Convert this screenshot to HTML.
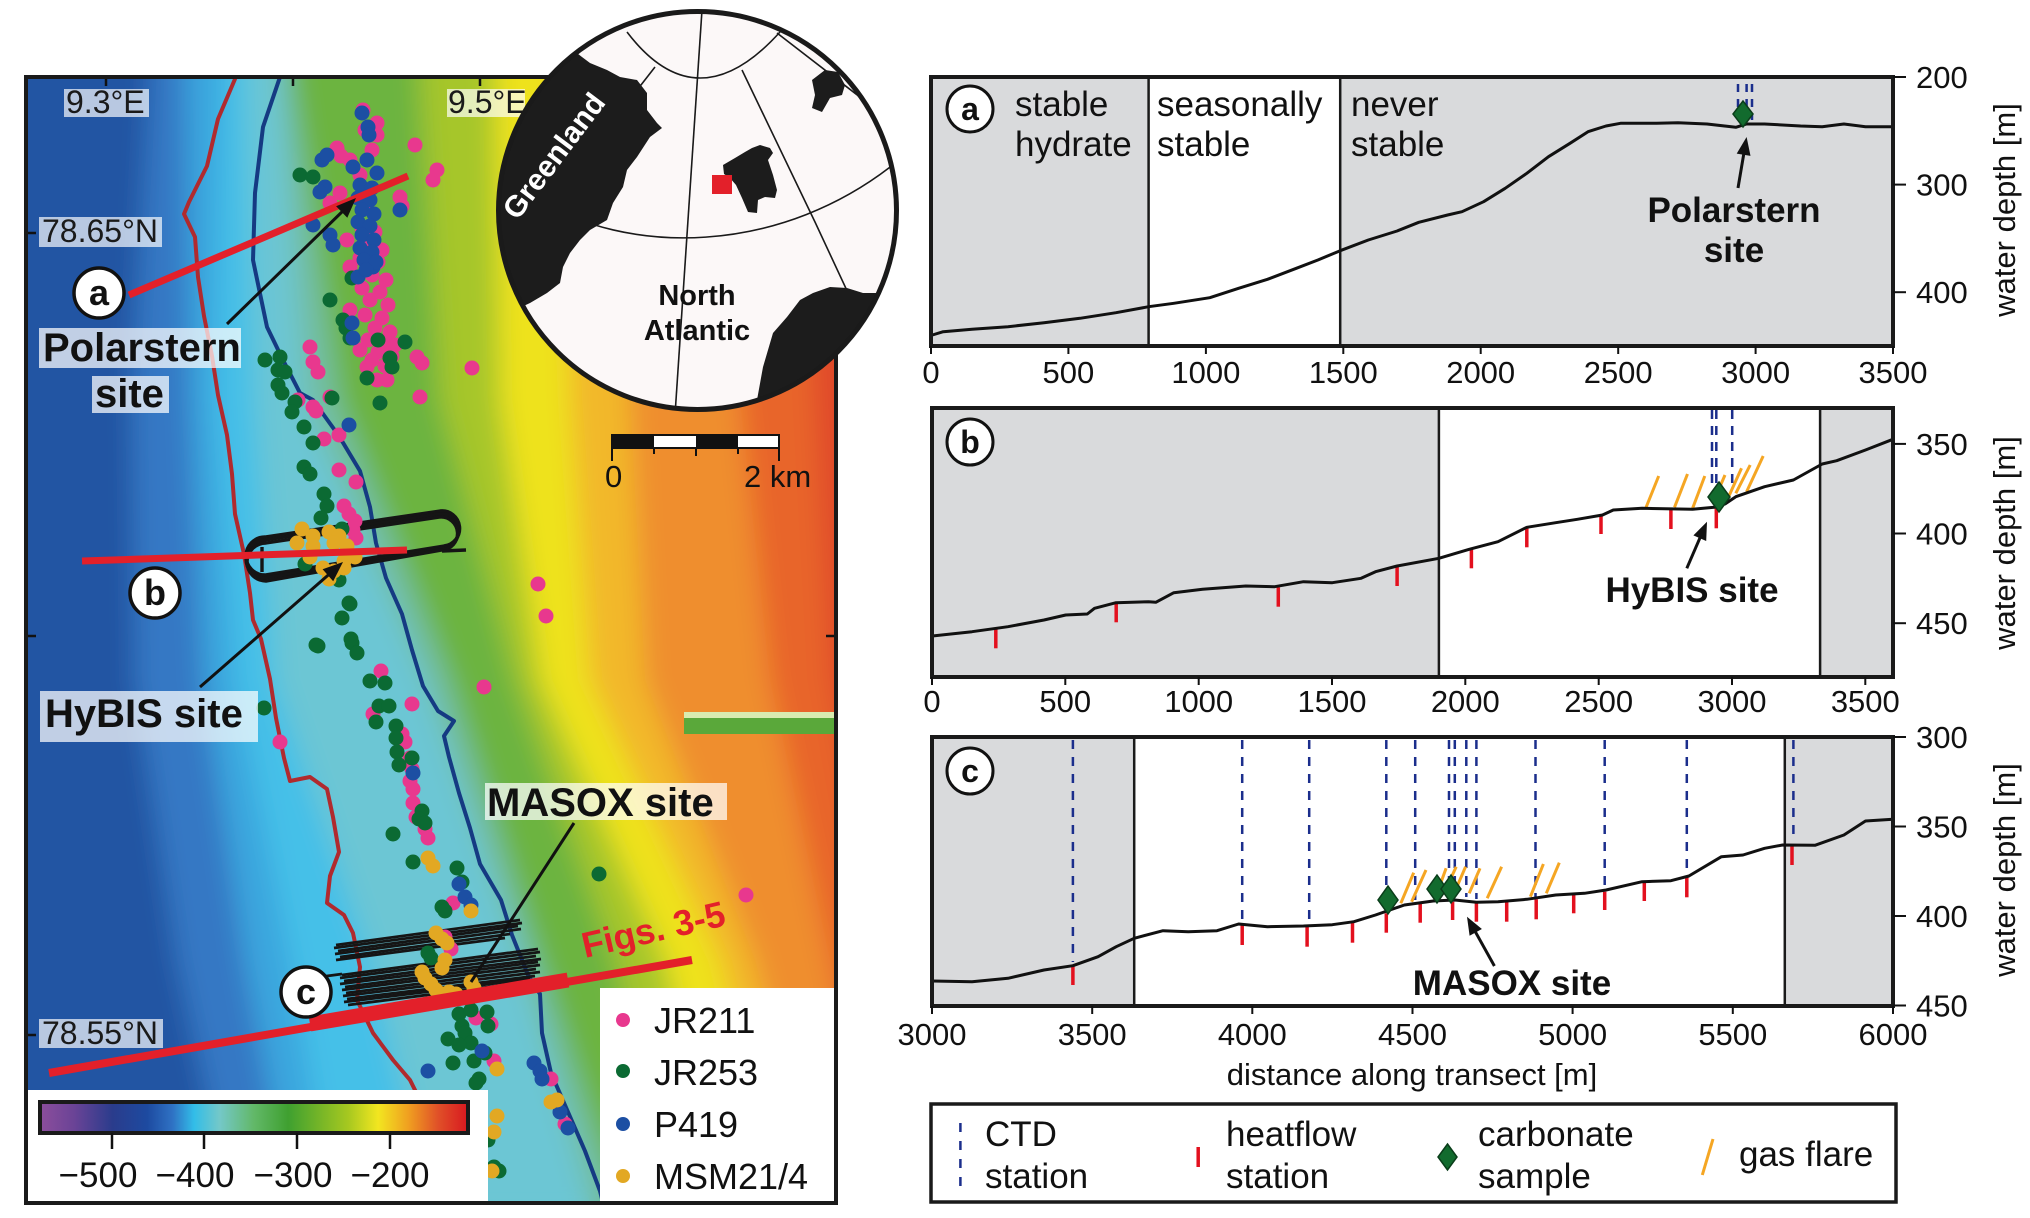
<!DOCTYPE html>
<html><head><meta charset="utf-8">
<style>
html,body{margin:0;padding:0;background:#fff;width:2030px;height:1218px;overflow:hidden;}
svg{display:block;font-family:"Liberation Sans",Arial,sans-serif;}
</style></head>
<body>
<svg width="2030" height="1218" viewBox="0 0 2030 1218" xmlns="http://www.w3.org/2000/svg">
<defs>
<clipPath id="mapclip"><rect x="26" y="77" width="810" height="1126"/></clipPath>
<clipPath id="globeclip"><circle cx="697.5" cy="210.5" r="200"/></clipPath>
<filter id="bl" filterUnits="userSpaceOnUse" x="0" y="0" width="1000" height="1218"><feGaussianBlur stdDeviation="13"/></filter>
<linearGradient id="cbar" x1="0" x2="1" y1="0" y2="0">
<stop offset="0" stop-color="#8c4e9c"/><stop offset="0.08" stop-color="#6a4396"/><stop offset="0.17" stop-color="#2a3c8c"/><stop offset="0.25" stop-color="#1d4aa0"/><stop offset="0.31" stop-color="#2f72c4"/><stop offset="0.36" stop-color="#32bde8"/><stop offset="0.42" stop-color="#74c8c8"/><stop offset="0.5" stop-color="#62b868"/><stop offset="0.58" stop-color="#3fa030"/><stop offset="0.72" stop-color="#a6c820"/><stop offset="0.79" stop-color="#f2e620"/><stop offset="0.86" stop-color="#f0a020"/><stop offset="0.93" stop-color="#e05028"/><stop offset="1" stop-color="#d81820"/>
</linearGradient>
<g id="bands">
  <rect x="0" y="0" width="1000" height="1218" fill="#2455a3"/>
  <polygon fill="#3478c4" points="150,0 150,77 132,400 135,680 177,960 230,1203 230,1218 1000,1218 1000,0"/>
  <polygon fill="#3aa6de" points="185,0 185,77 190,400 203,680 245,960 290,1203 290,1218 1000,1218 1000,0"/>
  <polygon fill="#45c0e8" points="222,0 222,77 215,400 235,680 290,960 330,1203 330,1218 1000,1218 1000,0"/>
  <polygon fill="#6cc6d4" points="245,0 245,77 255,400 275,680 370,960 430,1203 430,1218 1000,1218 1000,0"/>
  <polygon fill="#72bea2" points="280,0 280,77 305,400 425,680 520,960 590,1203 590,1218 1000,1218 1000,0"/>
  <polygon fill="#6cb440" points="292,0 292,77 340,400 450,680 540,960 620,1203 620,1218 1000,1218 1000,0"/>
  <polygon fill="#a6c62a" points="420,0 420,77 440,400 515,680 615,960 670,1203 670,1218 1000,1218 1000,0"/>
  <polygon fill="#eee21e" points="495,0 495,77 500,400 540,680 665,960 720,1203 720,1218 1000,1218 1000,0"/>
  <polygon fill="#f2b82a" points="560,0 560,77 570,400 590,680 720,960 780,1203 780,1218 1000,1218 1000,0"/>
  <polygon fill="#ef8e2e" points="620,0 620,77 630,400 645,680 755,960 820,1203 820,1218 1000,1218 1000,0"/>
  <polygon fill="#e8652c" points="720,0 720,77 740,400 770,680 830,960 880,1203 880,1218 1000,1218 1000,0"/>
  <polygon fill="#e04a2a" points="800,0 800,77 815,400 830,680 880,960 900,1203 900,1218 1000,1218 1000,0"/>
</g>
</defs>

<!-- ============ MAP ============ -->
<g clip-path="url(#mapclip)">
 <use href="#bands"/>
 <use href="#bands" filter="url(#bl)"/>
 <!-- green artifact -->
 <rect x="684" y="712" width="152" height="22" fill="#5aa83a"/>
 <rect x="684" y="712" width="152" height="6" fill="#d8ecb0"/>
 <!-- contour lines -->
 <polyline fill="none" stroke="#b02a2e" stroke-width="4" stroke-linejoin="round" points="235,77 235,79 218,119 207,166 189,202 184,214 195,237 198,277 204,316 212,356 218,395 227,435 232,474 235,514 244,554 250,593 253,620 261,639 270,679 276,718 284,758 290,781 310,777 327,789 333,817 339,852 330,876 327,903 344,915 353,933 360,967 357,1000 373,1033 393,1060 410,1080 420,1100 440,1150 455,1203"/>
 <polyline fill="none" stroke="#153a82" stroke-width="4" stroke-linejoin="round" points="280,77 263,127 255,193 253,260 267,327 283,360 300,393 313,400 339,436 360,471 370,507 376,543 386,578 402,614 412,650 423,686 438,711 454,721 444,736 449,757 459,793 470,828 480,864 501,900 512,935 522,960 528,975 540,994 542,1033 551,1073 568,1112 585,1151 600,1191 603,1203"/>
 <!-- ship track b -->
 <g fill="none" stroke="#151515" stroke-width="3.4">
  <path d="M265,537 L440,511 A17,17 0 0 1 444,546 L265,575 A19,19 0 0 1 265,537 Z"/>
  <path d="M265,540 L440,514 A16,16 0 0 1 443,548 L265,578 A19,19 0 0 1 265,540 Z"/>
  <path d="M266,543 L440,517 A15,15 0 0 1 442,550 L266,581 A19,19 0 0 1 266,543 Z"/>
  <path d="M262,547 L262,572"/>
  <path d="M442,551 L466,550"/>
 </g>
 <!-- ship track c -->
 <g stroke="#151515" stroke-width="2.8" fill="none">
  <path d="M336,945 L520,920"/><path d="M334,948 L522,923"/><path d="M338,951 L518,926"/><path d="M335,954 L521,929"/><path d="M340,957 L510,934"/><path d="M336,960 L505,938"/>
  <path d="M342,975 L538,949"/><path d="M340,978 L540,952"/><path d="M344,981 L536,956"/><path d="M340,984 L541,959"/><path d="M345,987 L538,962"/><path d="M342,990 L540,965"/><path d="M346,993 L536,969"/><path d="M343,996 L540,972"/><path d="M347,999 L535,976"/><path d="M344,1002 L530,979"/><path d="M348,1005 L520,983"/><path d="M312,978 L342,974"/>
 </g>
 <!-- dots pink -->
 <g fill="#e8388e">
  <circle cx="363" cy="110" r="7.5"/><circle cx="377" cy="123" r="7.5"/><circle cx="377" cy="135" r="7.5"/><circle cx="337" cy="148" r="7.5"/><circle cx="341" cy="156" r="7.5"/><circle cx="350" cy="160" r="7.5"/><circle cx="415" cy="145" r="7.5"/><circle cx="437" cy="170" r="7.5"/><circle cx="433" cy="180" r="7.5"/><circle cx="400" cy="197" r="7.5"/><circle cx="402" cy="206" r="7.5"/><circle cx="340" cy="193" r="7.5"/><circle cx="330" cy="203" r="7.5"/><circle cx="347" cy="240" r="7.5"/><circle cx="350" cy="267" r="7.5"/><circle cx="350" cy="310" r="7.5"/><circle cx="310" cy="347" r="7.5"/><circle cx="313" cy="362" r="7.5"/><circle cx="318" cy="372" r="7.5"/><circle cx="417" cy="357" r="7.5"/><circle cx="422" cy="363" r="7.5"/><circle cx="472" cy="368" r="7.5"/><circle cx="420" cy="397" r="7.5"/><circle cx="367" cy="367" r="7.5"/><circle cx="377" cy="380" r="7.5"/><circle cx="387" cy="380" r="7.5"/><circle cx="298" cy="400" r="7.5"/><circle cx="313" cy="407" r="7.5"/><circle cx="330" cy="397" r="7.5"/><circle cx="365" cy="130" r="7.5"/><circle cx="372" cy="150" r="7.5"/><circle cx="360" cy="175" r="7.5"/><circle cx="370" cy="190" r="7.5"/><circle cx="365" cy="205" r="7.5"/>
  <circle cx="362" cy="228" r="7.5"/><circle cx="375" cy="232" r="7.5"/><circle cx="368" cy="245" r="7.5"/><circle cx="382" cy="250" r="7.5"/><circle cx="360" cy="258" r="7.5"/><circle cx="378" cy="262" r="7.5"/><circle cx="372" cy="275" r="7.5"/><circle cx="386" cy="280" r="7.5"/><circle cx="362" cy="288" r="7.5"/><circle cx="380" cy="292" r="7.5"/><circle cx="370" cy="300" r="7.5"/><circle cx="388" cy="305" r="7.5"/><circle cx="365" cy="315" r="7.5"/><circle cx="382" cy="318" r="7.5"/><circle cx="375" cy="328" r="7.5"/><circle cx="390" cy="332" r="7.5"/><circle cx="368" cy="340" r="7.5"/><circle cx="385" cy="345" r="7.5"/><circle cx="378" cy="352" r="7.5"/><circle cx="392" cy="356" r="7.5"/><circle cx="372" cy="360" r="7.5"/><circle cx="385" cy="366" r="7.5"/><circle cx="360" cy="350" r="7.5"/><circle cx="395" cy="345" r="7.5"/>
  <circle cx="316" cy="411" r="7.5"/><circle cx="324" cy="439" r="7.5"/><circle cx="339" cy="435" r="7.5"/><circle cx="339" cy="470" r="7.5"/><circle cx="356" cy="482" r="7.5"/><circle cx="344" cy="506" r="7.5"/><circle cx="353" cy="530" r="7.5"/><circle cx="356" cy="538" r="7.5"/><circle cx="355" cy="521" r="7.5"/><circle cx="349" cy="514" r="7.5"/><circle cx="538" cy="584" r="7.5"/><circle cx="546" cy="616" r="7.5"/><circle cx="484" cy="687" r="7.5"/><circle cx="381" cy="671" r="7.5"/><circle cx="412" cy="704" r="7.5"/><circle cx="373" cy="714" r="7.5"/><circle cx="402" cy="734" r="7.5"/><circle cx="405" cy="742" r="7.5"/><circle cx="410" cy="758" r="7.5"/><circle cx="412" cy="769" r="7.5"/><circle cx="410" cy="781" r="7.5"/><circle cx="413" cy="789" r="7.5"/><circle cx="413" cy="803" r="7.5"/><circle cx="416" cy="817" r="7.5"/><circle cx="425" cy="829" r="7.5"/><circle cx="428" cy="838" r="7.5"/><circle cx="280" cy="742" r="7.5"/><circle cx="746" cy="895" r="7.5"/><circle cx="445" cy="937" r="7.5"/><circle cx="451" cy="949" r="7.5"/><circle cx="476" cy="1018" r="7.5"/><circle cx="491" cy="1024" r="7.5"/><circle cx="494" cy="1061" r="7.5"/><circle cx="551" cy="1079" r="7.5"/><circle cx="565" cy="1124" r="7.5"/><circle cx="453" cy="903" r="7.5"/>
 </g>
 <!-- dots green -->
 <g fill="#0b6a33">
  <circle cx="300" cy="175" r="7.5"/><circle cx="313" cy="177" r="7.5"/><circle cx="330" cy="300" r="7.5"/><circle cx="343" cy="320" r="7.5"/><circle cx="346" cy="328" r="7.5"/><circle cx="350" cy="338" r="7.5"/><circle cx="378" cy="340" r="7.5"/><circle cx="405" cy="342" r="7.5"/><circle cx="390" cy="358" r="7.5"/><circle cx="392" cy="367" r="7.5"/><circle cx="367" cy="378" r="7.5"/><circle cx="380" cy="403" r="7.5"/><circle cx="265" cy="360" r="7.5"/><circle cx="280" cy="357" r="7.5"/><circle cx="278" cy="370" r="7.5"/><circle cx="285" cy="372" r="7.5"/><circle cx="278" cy="385" r="7.5"/><circle cx="282" cy="393" r="7.5"/><circle cx="295" cy="402" r="7.5"/><circle cx="292" cy="412" r="7.5"/><circle cx="332" cy="398" r="7.5"/><circle cx="352" cy="278" r="7.5"/><circle cx="304" cy="427" r="7.5"/><circle cx="313" cy="443" r="7.5"/><circle cx="304" cy="467" r="7.5"/><circle cx="310" cy="474" r="7.5"/><circle cx="324" cy="494" r="7.5"/><circle cx="327" cy="506" r="7.5"/><circle cx="321" cy="518" r="7.5"/><circle cx="342" cy="529" r="7.5"/><circle cx="305" cy="564" r="7.5"/><circle cx="339" cy="580" r="7.5"/><circle cx="349" cy="603" r="7.5"/><circle cx="342" cy="618" r="7.5"/><circle cx="352" cy="643" r="7.5"/><circle cx="357" cy="653" r="7.5"/><circle cx="318" cy="646" r="7.5"/><circle cx="350" cy="604" r="7.5"/><circle cx="351" cy="639" r="7.5"/><circle cx="316" cy="645" r="7.5"/><circle cx="370" cy="681" r="7.5"/><circle cx="385" cy="683" r="7.5"/><circle cx="379" cy="706" r="7.5"/><circle cx="389" cy="706" r="7.5"/><circle cx="376" cy="722" r="7.5"/><circle cx="396" cy="726" r="7.5"/><circle cx="396" cy="738" r="7.5"/><circle cx="397" cy="752" r="7.5"/><circle cx="399" cy="765" r="7.5"/><circle cx="412" cy="758" r="7.5"/><circle cx="422" cy="811" r="7.5"/><circle cx="419" cy="819" r="7.5"/><circle cx="425" cy="823" r="7.5"/><circle cx="393" cy="834" r="7.5"/><circle cx="413" cy="862" r="7.5"/><circle cx="457" cy="868" r="7.5"/><circle cx="462" cy="882" r="7.5"/><circle cx="442" cy="907" r="7.5"/><circle cx="445" cy="911" r="7.5"/><circle cx="599" cy="874" r="7.5"/><circle cx="428" cy="953" r="7.5"/><circle cx="431" cy="958" r="7.5"/><circle cx="459" cy="1014" r="7.5"/><circle cx="471" cy="1010" r="7.5"/><circle cx="487" cy="1012" r="7.5"/><circle cx="462" cy="1026" r="7.5"/><circle cx="465" cy="1033" r="7.5"/><circle cx="471" cy="1043" r="7.5"/><circle cx="448" cy="1039" r="7.5"/><circle cx="459" cy="1045" r="7.5"/><circle cx="488" cy="1026" r="7.5"/><circle cx="485" cy="1053" r="7.5"/><circle cx="453" cy="1063" r="7.5"/><circle cx="474" cy="1061" r="7.5"/><circle cx="479" cy="1079" r="7.5"/><circle cx="476" cy="1083" r="7.5"/><circle cx="499" cy="1171" r="7.5"/><circle cx="494" cy="1167" r="7.5"/><circle cx="488" cy="1140" r="7.5"/><circle cx="264" cy="708" r="7.5"/>
 </g>
 <!-- dots blue -->
 <g fill="#1c4fa3">
  <circle cx="362" cy="113" r="7.5"/><circle cx="368" cy="127" r="7.5"/><circle cx="369" cy="135" r="7.5"/><circle cx="322" cy="160" r="7.5"/><circle cx="327" cy="155" r="7.5"/><circle cx="353" cy="167" r="7.5"/><circle cx="367" cy="160" r="7.5"/><circle cx="377" cy="173" r="7.5"/><circle cx="325" cy="187" r="7.5"/><circle cx="320" cy="192" r="7.5"/><circle cx="313" cy="225" r="7.5"/><circle cx="330" cy="235" r="7.5"/><circle cx="333" cy="245" r="7.5"/><circle cx="373" cy="267" r="7.5"/><circle cx="358" cy="277" r="7.5"/><circle cx="352" cy="323" r="7.5"/><circle cx="353" cy="338" r="7.5"/><circle cx="400" cy="210" r="7.5"/>
  <circle cx="360" cy="185" r="7.5"/><circle cx="372" cy="188" r="7.5"/><circle cx="358" cy="198" r="7.5"/><circle cx="370" cy="200" r="7.5"/><circle cx="362" cy="210" r="7.5"/><circle cx="374" cy="214" r="7.5"/><circle cx="358" cy="222" r="7.5"/><circle cx="370" cy="226" r="7.5"/><circle cx="362" cy="235" r="7.5"/><circle cx="374" cy="240" r="7.5"/><circle cx="360" cy="248" r="7.5"/><circle cx="372" cy="252" r="7.5"/><circle cx="364" cy="260" r="7.5"/><circle cx="376" cy="262" r="7.5"/><circle cx="366" cy="270" r="7.5"/>
  <circle cx="349" cy="425" r="7.5"/><circle cx="413" cy="773" r="7.5"/><circle cx="459" cy="884" r="7.5"/><circle cx="465" cy="897" r="7.5"/><circle cx="471" cy="905" r="7.5"/><circle cx="534" cy="1063" r="7.5"/><circle cx="540" cy="1071" r="7.5"/><circle cx="542" cy="1079" r="7.5"/><circle cx="560" cy="1112" r="7.5"/><circle cx="568" cy="1128" r="7.5"/><circle cx="428" cy="1071" r="7.5"/><circle cx="482" cy="1051" r="7.5"/>
 </g>
 <!-- dots yellow -->
 <g fill="#e2a823">
  <circle cx="302" cy="529" r="7.5"/><circle cx="313" cy="536" r="7.5"/><circle cx="329" cy="532" r="7.5"/><circle cx="339" cy="536" r="7.5"/><circle cx="297" cy="543" r="7.5"/><circle cx="313" cy="546" r="7.5"/><circle cx="334" cy="543" r="7.5"/><circle cx="347" cy="546" r="7.5"/><circle cx="344" cy="561" r="7.5"/><circle cx="355" cy="557" r="7.5"/><circle cx="323" cy="568" r="7.5"/><circle cx="334" cy="571" r="7.5"/><circle cx="344" cy="568" r="7.5"/><circle cx="329" cy="579" r="7.5"/><circle cx="310" cy="557" r="7.5"/>
  <circle cx="428" cy="858" r="7.5"/><circle cx="433" cy="866" r="7.5"/><circle cx="471" cy="911" r="7.5"/><circle cx="436" cy="933" r="7.5"/><circle cx="442" cy="939" r="7.5"/><circle cx="445" cy="960" r="7.5"/><circle cx="422" cy="972" r="7.5"/><circle cx="425" cy="978" r="7.5"/><circle cx="431" cy="984" r="7.5"/><circle cx="436" cy="990" r="7.5"/><circle cx="442" cy="994" r="7.5"/><circle cx="449" cy="992" r="7.5"/><circle cx="471" cy="982" r="7.5"/><circle cx="474" cy="988" r="7.5"/><circle cx="456" cy="994" r="7.5"/><circle cx="442" cy="968" r="7.5"/><circle cx="447" cy="943" r="7.5"/><circle cx="497" cy="1069" r="7.5"/><circle cx="557" cy="1100" r="7.5"/><circle cx="551" cy="1102" r="7.5"/><circle cx="497" cy="1116" r="7.5"/><circle cx="494" cy="1132" r="7.5"/><circle cx="492" cy="1171" r="7.5"/>
 </g>
 <!-- red transects -->
 <g stroke="#e3202a" stroke-linecap="butt">
  <line x1="129" y1="295" x2="408" y2="176" stroke-width="7"/>
  <line x1="82" y1="561" x2="407" y2="550" stroke-width="7"/>
  <line x1="49" y1="1073" x2="692" y2="960" stroke-width="8"/>
  <line x1="310" y1="1024" x2="568" y2="980" stroke-width="15"/>
 </g>
 <text x="585" y="958" transform="rotate(-13 585 958)" font-size="36" font-weight="bold" fill="#e3202a">Figs. 3-5</text>
 <!-- leader arrows -->
 <g stroke="#111" stroke-width="3">
  <line x1="227" y1="324" x2="347" y2="207"/>
  <line x1="200" y1="687" x2="334" y2="570"/>
  <line x1="574" y1="823" x2="471" y2="982"/>
 </g>
 <polygon fill="#111" points="356,198 347.3,217.7 336.1,206.3"/>
 <polygon fill="#111" points="343,562 333.2,581.2 322.6,569.2"/>
 <!-- label circles -->
 <g fill="#fff" stroke="#111" stroke-width="3.5">
  <circle cx="99" cy="293" r="25"/><circle cx="155" cy="593" r="25"/><circle cx="306" cy="992" r="25"/>
 </g>
 <g font-size="36" font-weight="bold" text-anchor="middle" fill="#111">
  <text x="99" y="305">a</text><text x="155" y="605">b</text><text x="306" y="1004">c</text>
 </g>
 <!-- site labels -->
 <g fill="#fff" fill-opacity="0.72">
  <rect x="39" y="328" width="202" height="40"/><rect x="92" y="376" width="77" height="37"/>
  <rect x="40" y="691" width="218" height="51"/><rect x="485" y="783" width="242" height="37"/>
 </g>
 <g font-size="40" font-weight="bold" fill="#111">
  <text x="43" y="361">Polarstern</text><text x="95" y="407">site</text>
  <text x="45" y="727">HyBIS site</text><text x="487" y="816">MASOX site</text>
 </g>
 <!-- lat/lon labels -->
 <g fill="#fff" fill-opacity="0.68">
  <rect x="64" y="89" width="85" height="28"/><rect x="447" y="89" width="78" height="28"/>
  <rect x="39" y="217" width="123" height="30"/><rect x="39" y="1019" width="124" height="29"/>
 </g>
 <g font-size="32" fill="#1a1a1a">
  <text x="66" y="113">9.3°E</text><text x="448" y="113">9.5°E</text>
  <text x="42" y="242">78.65°N</text><text x="42" y="1044">78.55°N</text>
 </g>
 <!-- scale bar -->
 <rect x="612" y="435" width="167" height="13" fill="#fff" stroke="#111" stroke-width="2"/>
 <rect x="612" y="435" width="42" height="13" fill="#111"/><rect x="696" y="435" width="42" height="13" fill="#111"/>
 <g stroke="#111" stroke-width="2"><line x1="612" y1="435" x2="612" y2="461"/><line x1="654" y1="448" x2="654" y2="454"/><line x1="696" y1="448" x2="696" y2="456"/><line x1="738" y1="448" x2="738" y2="454"/><line x1="779" y1="435" x2="779" y2="461"/></g>
 <g font-size="31" fill="#111"><text x="605" y="487">0</text><text x="744" y="487">2 km</text></g>
 <!-- frame ticks -->
 <g stroke="#111" stroke-width="2.5">
  <line x1="106" y1="77" x2="106" y2="86"/><line x1="293" y1="77" x2="293" y2="86"/><line x1="480" y1="77" x2="480" y2="86"/>
  <line x1="26" y1="233" x2="36" y2="233"/><line x1="26" y1="636" x2="36" y2="636"/><line x1="26" y1="1035" x2="36" y2="1035"/>
  <line x1="826" y1="636" x2="836" y2="636"/>
 </g>
 <!-- colorbar box -->
 <rect x="27" y="1090" width="461" height="113" fill="#fff"/>
 <rect x="40" y="1102" width="428" height="31" fill="url(#cbar)" stroke="#1a1a1a" stroke-width="4"/>
 <g stroke="#111" stroke-width="2.5"><line x1="112" y1="1133" x2="112" y2="1149"/><line x1="204" y1="1133" x2="204" y2="1149"/><line x1="297" y1="1133" x2="297" y2="1149"/><line x1="390" y1="1133" x2="390" y2="1149"/></g>
 <g font-size="35" fill="#111" text-anchor="middle"><text x="98" y="1187">−500</text><text x="195" y="1187">−400</text><text x="293" y="1187">−300</text><text x="390" y="1187">−200</text></g>
 <!-- map legend box -->
 <rect x="600" y="988" width="236" height="215" fill="#fff"/>
 <circle cx="623" cy="1020" r="7" fill="#e8388e"/><circle cx="623" cy="1071" r="7" fill="#0b6a33"/><circle cx="623" cy="1124" r="7" fill="#1c4fa3"/><circle cx="623" cy="1176" r="7" fill="#e2a823"/>
 <g font-size="36" fill="#111"><text x="654" y="1033">JR211</text><text x="654" y="1085">JR253</text><text x="654" y="1137">P419</text><text x="654" y="1189">MSM21/4</text></g>
</g>
<rect x="26" y="77" width="810" height="1126" fill="none" stroke="#1a1a1a" stroke-width="4"/>

<!-- ============ GLOBE ============ -->
<g clip-path="url(#globeclip)">
 <rect x="490" y="0" width="420" height="420" fill="#fcf8f8"/>
 <g fill="none" stroke="#1a1a1a" stroke-width="1.6">
  <path d="M627,32 Q697,124 780,32"/>
  <path d="M540,200 C620,252 780,262 905,155"/>
  <path d="M702,10 L675,415"/>
  <path d="M742,70 L815,222 L870,340"/>
  <path d="M777,33 L900,128"/>
  <path d="M655,67 L620,112"/>
 </g>
 <polygon fill="#1c1c1c" points="490,0 560,40 582,57 590,63 607,70 620,77 637,80 647,93 647,110 657,123 662,128 650,137 637,157 627,170 623,187 613,203 607,220 590,230 580,240 570,253 563,267 560,283 547,293 530,303 515,310 490,330"/>
 <polygon fill="#1c1c1c" points="757,420 757,400 763,367 773,333 787,317 800,300 813,293 830,287 847,288 863,293 888,293 910,290 910,420"/>
 <polygon fill="#1c1c1c" points="723,165 735,158 745,152 752,148 760,145 770,148 773,153 768,160 773,175 777,190 775,198 765,197 758,200 757,213 748,212 742,198 736,185 730,178 724,174"/>
 <polygon fill="#1c1c1c" points="812,80 825,70 838,72 845,85 842,95 830,98 822,112 812,108 815,95"/>
 <rect x="712" y="175" width="20" height="19" fill="#e3202a"/>
 <text x="562" y="162" transform="rotate(-53 562 162)" font-size="30" font-weight="bold" fill="#fff" text-anchor="middle">Greenland</text>
 <g font-size="29" font-weight="bold" fill="#111" text-anchor="middle"><text x="697" y="305">North</text><text x="697" y="340">Atlantic</text></g>
</g>
<circle cx="697.5" cy="210.5" r="199" fill="none" stroke="#1a1a1a" stroke-width="5"/>

<!-- ============ PANEL A ============ -->
<rect x="931" y="77" width="962" height="269" fill="#d9dadc"/>
<rect x="1148.6" y="77" width="191.6" height="269" fill="#fff"/>
<g stroke="#1a1a1a" stroke-width="2.5"><line x1="1148.6" y1="77" x2="1148.6" y2="346"/><line x1="1340.2" y1="77" x2="1340.2" y2="346"/></g>
<g font-size="35" fill="#111">
 <text x="1015" y="116">stable</text><text x="1015" y="156">hydrate</text>
 <text x="1157" y="116">seasonally</text><text x="1157" y="156">stable</text>
 <text x="1351" y="116">never</text><text x="1351" y="156">stable</text>
</g>
<polyline fill="none" stroke="#111" stroke-width="3" stroke-linejoin="round" points="932.4,335 943.2,331.7 972,329.3 1008,326.7 1044,322.7 1080,318.3 1116,312.7 1148.6,306.7 1173.8,303.3 1209.8,297.7 1238.6,288.3 1267.5,279.3 1296.3,268.3 1317.9,260 1340.2,250.7 1368.3,240 1397.1,231 1418.8,222.3 1447.6,215 1462,211.7 1483.6,201.7 1505.2,188.3 1526.8,173.3 1548.5,156.7 1570,143.3 1588,131.7 1606,126 1620.5,123.3 1656.5,123.3 1678,122.7 1707,124 1735.8,127.3 1746.6,124 1764.6,124 1800.6,126 1822.2,126.7 1843.9,124 1865.5,126.7 1892.9,126.7"/>
<g stroke="#1b2e8c" stroke-width="2.5" stroke-dasharray="8 7"><line x1="1738" y1="84" x2="1738" y2="120"/><line x1="1746.6" y1="84" x2="1746.6" y2="120"/><line x1="1752" y1="84" x2="1752" y2="120"/></g>
<polygon points="1743,101 1753,114 1743,127 1733,114" fill="#126b2e" stroke="#0a3d1a" stroke-width="1.5"/>
<line x1="1738" y1="188" x2="1744.6" y2="149" stroke="#111" stroke-width="3"/>
<polygon fill="#111" points="1746.6,137 1750.5,155.9 1736.7,153.6"/>
<g font-size="35" font-weight="bold" fill="#111" text-anchor="middle"><text x="1734" y="222">Polarstern</text><text x="1734" y="262">site</text></g>
<circle cx="970" cy="109" r="23" fill="#fff" stroke="#111" stroke-width="3"/>
<text x="970" y="120" font-size="32" font-weight="bold" text-anchor="middle" fill="#111">a</text>
<rect x="931" y="77" width="962" height="269" fill="none" stroke="#1a1a1a" stroke-width="4"/>
<g stroke="#111" stroke-width="2">
 <line x1="931" y1="346" x2="931" y2="354"/><line x1="1068.4" y1="346" x2="1068.4" y2="354"/><line x1="1205.9" y1="346" x2="1205.9" y2="354"/><line x1="1343.3" y1="346" x2="1343.3" y2="354"/><line x1="1480.7" y1="346" x2="1480.7" y2="354"/><line x1="1618.2" y1="346" x2="1618.2" y2="354"/><line x1="1755.6" y1="346" x2="1755.6" y2="354"/><line x1="1893" y1="346" x2="1893" y2="354"/>
 <line x1="1893" y1="77" x2="1906" y2="77"/><line x1="1893" y1="184.6" x2="1906" y2="184.6"/><line x1="1893" y1="292.2" x2="1906" y2="292.2"/>
</g>
<g font-size="31" fill="#111" text-anchor="middle">
 <text x="931" y="383">0</text><text x="1068.4" y="383">500</text><text x="1205.9" y="383">1000</text><text x="1343.3" y="383">1500</text><text x="1480.7" y="383">2000</text><text x="1618.2" y="383">2500</text><text x="1755.6" y="383">3000</text><text x="1893" y="383">3500</text>
</g>
<g font-size="31" fill="#111"><text x="1916" y="88">200</text><text x="1916" y="195.6">300</text><text x="1916" y="303">400</text></g>
<text transform="translate(2015 210) rotate(-90)" font-size="31" fill="#111" text-anchor="middle">water depth [m]</text>

<!-- ============ PANEL B ============ -->
<rect x="932" y="408" width="961" height="269" fill="#d9dadc"/>
<rect x="1438.9" y="408" width="381.2" height="269" fill="#fff"/>
<g stroke="#1a1a1a" stroke-width="2.5"><line x1="1438.9" y1="408" x2="1438.9" y2="677"/><line x1="1820.1" y1="408" x2="1820.1" y2="677"/></g>
<g stroke="#1b2e8c" stroke-width="2.5" stroke-dasharray="9 7"><line x1="1712" y1="410" x2="1712" y2="490"/><line x1="1716.3" y1="410" x2="1716.3" y2="490"/><line x1="1732.2" y1="410" x2="1732.2" y2="490"/></g>
<g stroke="#f5a623" stroke-width="3">
 <line x1="1645.7" y1="508.3" x2="1658.7" y2="476"/><line x1="1674.5" y1="507.3" x2="1687.5" y2="474"/><line x1="1692.6" y1="508.3" x2="1704.8" y2="476"/><line x1="1714.2" y1="500" x2="1725" y2="475"/><line x1="1728.6" y1="496.7" x2="1741.5" y2="468.3"/><line x1="1735.8" y1="493.3" x2="1750.2" y2="465"/><line x1="1746.6" y1="491.7" x2="1763.2" y2="456"/>
</g>
<g stroke="#e3101e" stroke-width="3.5">
 <line x1="995.8" y1="628.3" x2="995.8" y2="648.3"/><line x1="1116.2" y1="602.7" x2="1116.2" y2="622.3"/><line x1="1278.3" y1="587.3" x2="1278.3" y2="606.7"/><line x1="1397.1" y1="566.7" x2="1397.1" y2="586"/><line x1="1471.4" y1="549.3" x2="1471.4" y2="568.3"/><line x1="1526.8" y1="528.3" x2="1526.8" y2="547.3"/><line x1="1601" y1="516" x2="1601" y2="534"/><line x1="1670.9" y1="509.3" x2="1670.9" y2="529"/><line x1="1716.3" y1="508.3" x2="1716.3" y2="528.3"/>
</g>
<polyline fill="none" stroke="#111" stroke-width="3" stroke-linejoin="round" points="932.4,636 972,631.7 1008,626.7 1044,620 1065.7,615 1087.3,614 1094.5,608.3 1116,602.7 1148.6,601.7 1155.8,602.3 1173.8,592.7 1202.6,589.3 1245.8,586 1274.7,586.7 1303.5,581.7 1332.3,582.7 1361.1,578.3 1375.5,571.7 1397.1,566 1438.9,558.3 1469.2,549.3 1498,541.7 1526.8,527.3 1555.7,522.7 1577.3,519.3 1602.5,515 1613.3,510 1642.1,508.3 1692.6,509.3 1714.2,507.3 1725,504 1735.8,496.7 1764.6,486.7 1793.4,480 1822.2,464 1836.7,460.7 1865.5,450 1892.9,439.3"/>
<polygon points="1719,482 1730,497 1719,512 1708,497" fill="#126b2e" stroke="#0a3d1a" stroke-width="1.5"/>
<line x1="1686.8" y1="568.3" x2="1702.2" y2="532.7" stroke="#111" stroke-width="3"/>
<polygon fill="#111" points="1707,521.7 1706.2,541 1693.4,535.4"/>
<text x="1692" y="602" font-size="35" font-weight="bold" text-anchor="middle" fill="#111">HyBIS site</text>
<circle cx="970" cy="442" r="23" fill="#fff" stroke="#111" stroke-width="3"/>
<text x="970" y="453" font-size="32" font-weight="bold" text-anchor="middle" fill="#111">b</text>
<rect x="932" y="408" width="961" height="269" fill="none" stroke="#1a1a1a" stroke-width="4"/>
<g stroke="#111" stroke-width="2">
 <line x1="932" y1="677" x2="932" y2="685"/><line x1="1065.3" y1="677" x2="1065.3" y2="685"/><line x1="1198.7" y1="677" x2="1198.7" y2="685"/><line x1="1332" y1="677" x2="1332" y2="685"/><line x1="1465.3" y1="677" x2="1465.3" y2="685"/><line x1="1598.7" y1="677" x2="1598.7" y2="685"/><line x1="1732" y1="677" x2="1732" y2="685"/><line x1="1865.3" y1="677" x2="1865.3" y2="685"/>
 <line x1="1893" y1="443.9" x2="1906" y2="443.9"/><line x1="1893" y1="533.5" x2="1906" y2="533.5"/><line x1="1893" y1="623.2" x2="1906" y2="623.2"/>
</g>
<g font-size="31" fill="#111" text-anchor="middle">
 <text x="932" y="712">0</text><text x="1065.3" y="712">500</text><text x="1198.7" y="712">1000</text><text x="1332" y="712">1500</text><text x="1465.3" y="712">2000</text><text x="1598.7" y="712">2500</text><text x="1732" y="712">3000</text><text x="1865.3" y="712">3500</text>
</g>
<g font-size="31" fill="#111"><text x="1916" y="455">350</text><text x="1916" y="544.5">400</text><text x="1916" y="634">450</text></g>
<text transform="translate(2015 543) rotate(-90)" font-size="31" fill="#111" text-anchor="middle">water depth [m]</text>

<!-- ============ PANEL C ============ -->
<rect x="932" y="737" width="961" height="269" fill="#d9dadc"/>
<rect x="1134.2" y="737" width="650.6" height="269" fill="#fff"/>
<g stroke="#1a1a1a" stroke-width="2.5"><line x1="1134.2" y1="737" x2="1134.2" y2="1006"/><line x1="1784.8" y1="737" x2="1784.8" y2="1006"/></g>
<g stroke="#1b2e8c" stroke-width="2.5" stroke-dasharray="9 8">
 <line x1="1072.9" y1="740" x2="1072.9" y2="962"/><line x1="1242.2" y1="740" x2="1242.2" y2="922"/><line x1="1309.2" y1="740" x2="1309.2" y2="922"/><line x1="1386.3" y1="740" x2="1386.3" y2="908"/><line x1="1415.2" y1="740" x2="1415.2" y2="900"/><line x1="1449" y1="740" x2="1449" y2="887"/><line x1="1454.8" y1="740" x2="1454.8" y2="887"/><line x1="1466.3" y1="740" x2="1466.3" y2="897"/><line x1="1476.4" y1="740" x2="1476.4" y2="899"/><line x1="1535.5" y1="740" x2="1535.5" y2="897"/><line x1="1604.7" y1="740" x2="1604.7" y2="887"/><line x1="1686.8" y1="740" x2="1686.8" y2="873"/><line x1="1793.4" y1="740" x2="1793.4" y2="842"/>
</g>
<g stroke="#f5a623" stroke-width="3">
 <line x1="1400.8" y1="903.3" x2="1413.7" y2="872.7"/><line x1="1411.6" y1="901.7" x2="1426" y2="870"/><line x1="1434.6" y1="900" x2="1446.1" y2="868.3"/><line x1="1444" y1="893.3" x2="1456.2" y2="866.7"/><line x1="1454.8" y1="891.7" x2="1465.6" y2="866.7"/><line x1="1469.2" y1="893.3" x2="1480" y2="868.3"/><line x1="1487.2" y1="898.3" x2="1501.6" y2="866.7"/><line x1="1530.4" y1="896.7" x2="1543.4" y2="864"/><line x1="1546.3" y1="893.3" x2="1559.3" y2="862.7"/>
</g>
<g stroke="#e3101e" stroke-width="3.5">
 <line x1="1072.9" y1="965.7" x2="1072.9" y2="985"/><line x1="1242.2" y1="925" x2="1242.2" y2="945"/><line x1="1307.1" y1="926.7" x2="1307.1" y2="946.7"/><line x1="1352.5" y1="921.7" x2="1352.5" y2="942.7"/><line x1="1386.3" y1="913.3" x2="1386.3" y2="932.7"/><line x1="1420.2" y1="903.3" x2="1420.2" y2="922.7"/><line x1="1452.6" y1="901.7" x2="1452.6" y2="920"/><line x1="1476.4" y1="902.7" x2="1476.4" y2="921.7"/><line x1="1506.7" y1="901.7" x2="1506.7" y2="921.7"/><line x1="1536.2" y1="899.3" x2="1536.2" y2="919.3"/><line x1="1573.7" y1="895" x2="1573.7" y2="913.3"/><line x1="1604.7" y1="891.7" x2="1604.7" y2="910"/><line x1="1644.3" y1="881.7" x2="1644.3" y2="901"/><line x1="1686.8" y1="876.7" x2="1686.8" y2="897.3"/><line x1="1792" y1="845" x2="1792" y2="865"/>
</g>
<polyline fill="none" stroke="#111" stroke-width="3" stroke-linejoin="round" points="932.4,981 972,981.7 1008,978.3 1044,970 1072.9,965.7 1098.1,956.7 1116.2,946.7 1134.2,938.3 1163,930.7 1188.2,931.7 1217,930.7 1238.6,924 1267.5,926.7 1303.5,926 1332.3,924.7 1353.9,921.7 1375.5,915 1404.4,905 1433.2,901 1454.8,900 1476.4,902.3 1498,901.7 1526.8,899.3 1555.7,895 1584.5,893.3 1606.1,890 1642.1,881.7 1670.9,880.7 1688.9,876 1721.4,856.7 1743,855 1764.6,848.3 1782.6,845 1815,845.3 1843.9,835 1865.5,821 1892.9,819.3"/>
<g fill="#126b2e" stroke="#0a3d1a" stroke-width="1.5">
 <polygon points="1388,886 1398,900 1388,914 1378,900"/>
 <polygon points="1437,875 1447,889 1437,903 1427,889"/>
 <polygon points="1451,875 1461,889 1451,903 1441,889"/>
</g>
<line x1="1494.4" y1="966" x2="1472.8" y2="927.2" stroke="#111" stroke-width="3"/>
<polygon fill="#111" points="1467,916.7 1481.9,929 1469.6,935.8"/>
<text x="1512" y="995" font-size="35" font-weight="bold" text-anchor="middle" fill="#111">MASOX site</text>
<circle cx="970" cy="771" r="23" fill="#fff" stroke="#111" stroke-width="3"/>
<text x="970" y="782" font-size="32" font-weight="bold" text-anchor="middle" fill="#111">c</text>
<rect x="932" y="737" width="961" height="269" fill="none" stroke="#1a1a1a" stroke-width="4"/>
<g stroke="#111" stroke-width="2">
 <line x1="932" y1="1006" x2="932" y2="1014"/><line x1="1092.2" y1="1006" x2="1092.2" y2="1014"/><line x1="1252.3" y1="1006" x2="1252.3" y2="1014"/><line x1="1412.5" y1="1006" x2="1412.5" y2="1014"/><line x1="1572.6" y1="1006" x2="1572.6" y2="1014"/><line x1="1732.8" y1="1006" x2="1732.8" y2="1014"/><line x1="1893" y1="1006" x2="1893" y2="1014"/>
 <line x1="1893" y1="737" x2="1906" y2="737"/><line x1="1893" y1="826.5" x2="1906" y2="826.5"/><line x1="1893" y1="916" x2="1906" y2="916"/><line x1="1893" y1="1005.5" x2="1906" y2="1005.5"/>
</g>
<g font-size="31" fill="#111" text-anchor="middle">
 <text x="932" y="1045">3000</text><text x="1092.2" y="1045">3500</text><text x="1252.3" y="1045">4000</text><text x="1412.5" y="1045">4500</text><text x="1572.6" y="1045">5000</text><text x="1732.8" y="1045">5500</text><text x="1893" y="1045">6000</text>
</g>
<g font-size="31" fill="#111"><text x="1916" y="748">300</text><text x="1916" y="837.5">350</text><text x="1916" y="927">400</text><text x="1916" y="1016.5">450</text></g>
<text transform="translate(2015 870) rotate(-90)" font-size="31" fill="#111" text-anchor="middle">water depth [m]</text>
<text x="1412" y="1085" font-size="31" fill="#111" text-anchor="middle">distance along transect [m]</text>

<!-- ============ BOTTOM LEGEND ============ -->
<rect x="931" y="1104" width="965" height="98" fill="#fff" stroke="#1a1a1a" stroke-width="3.5"/>
<line x1="960.4" y1="1123" x2="960.4" y2="1188" stroke="#1b2e8c" stroke-width="2.5" stroke-dasharray="9 9"/>
<line x1="1198.2" y1="1147" x2="1198.2" y2="1167" stroke="#e3101e" stroke-width="3.5"/>
<polygon points="1447.5,1144 1457,1157 1447.5,1170 1438,1157" fill="#126b2e" stroke="#0a3d1a" stroke-width="1.5"/>
<line x1="1702.3" y1="1175" x2="1713" y2="1139" stroke="#f5a623" stroke-width="3"/>
<g font-size="35" fill="#111">
 <text x="985" y="1146">CTD</text><text x="985" y="1188">station</text>
 <text x="1226" y="1146">heatflow</text><text x="1226" y="1188">station</text>
 <text x="1478" y="1146">carbonate</text><text x="1478" y="1188">sample</text>
 <text x="1739" y="1166">gas flare</text>
</g>
</svg>
</body></html>
